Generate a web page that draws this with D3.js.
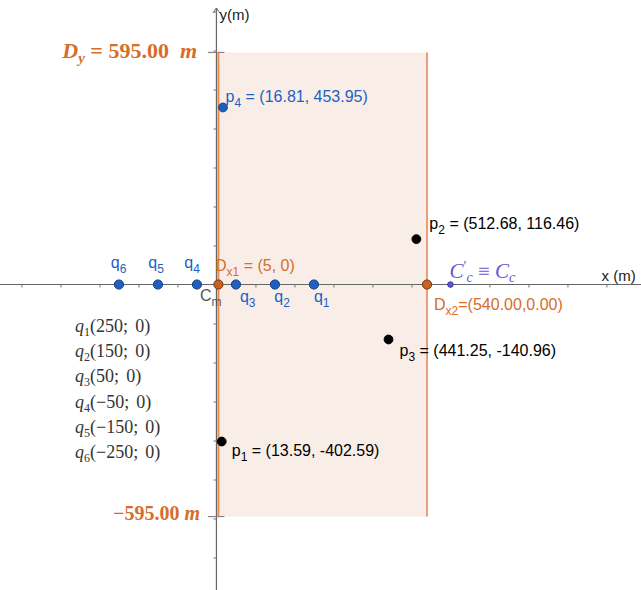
<!DOCTYPE html>
<html>
<head>
<meta charset="utf-8">
<script src="https://cdn.jsdelivr.net/npm/d3@7"></script>
<style>
  body { margin: 0; background: #fff; }
  svg { display: block; }
  text { white-space: pre; }
</style>
</head>
<body>
<svg id="chart" width="641" height="590"></svg>
<script>
// Rectangular domain limits (m)
const domainX = [5, 540];      // D_x1, D_x2
const domainY = [-595, 595];   // -D_y, D_y

// Source points q_i lying on the x axis (m)
const qNames = ["q1", "q2", "q3", "q4", "q5", "q6"];
const qX = [250, 150, 50, -50, -150, -250];

// Observation points p_i (m)
const pNames = ["p1", "p2", "p3", "p4"];
const pX = [13.59, 512.68, 441.25, 16.81];
const pY = [-402.59, 116.46, -140.96, 453.95];

// Reference centres on the x axis (m)
const cmX = 0;     // C_m
const ccX = 600;   // C_c

// Tick positions (m)
const xTicks = d3.range(-500, 1001, 100);
const yTicks = d3.range(-700, 701, 100);

// ---------------------------------------------------------------
const W = 641, H = 590;
const SANS = "'Liberation Sans', Arial, sans-serif";
const SERIF = "'Liberation Serif', 'Times New Roman', serif";
const ORANGE = "#d66d28";
const BLUE = "#1f5fc2";
const PURPLE = "#6557d2";

const svg = d3.select("#chart");
const x = d3.scaleLinear().domain([-555, 1088.7]).range([0, W]);
const y = d3.scaleLinear().domain([729.5, -783.3]).range([0, H]);

const fmt2 = v => v.toFixed(2);
const minus = v => (v < 0 ? "\u2212" + Math.abs(v) : String(v));

// Text made of runs; runs with a "shift" are moved vertically (and usually shrunk)
function rich(g, px, py, parts, opts) {
  const t = g.append("text")
    .attr("x", px).attr("y", py)
    .attr("font-family", opts.family || SANS)
    .attr("font-size", opts.size || 16)
    .attr("fill", opts.fill || "#000")
    .attr("text-anchor", opts.anchor || "start");
  if (opts.weight) t.attr("font-weight", opts.weight);
  let shift = 0;
  parts.forEach(p => {
    const s = p.sub ? (p.shift != null ? p.shift : 5) : 0;
    const ts = t.append("tspan").text(p.t).attr("dy", s - shift);
    shift = s;
    if (p.dx) ts.attr("dx", p.dx);
    if (p.sub) ts.attr("font-size", p.size || 12);
    if (p.italic) ts.attr("font-style", "italic");
    if (p.weight) ts.attr("font-weight", p.weight);
  });
  return t;
}

// Shaded domain
svg.append("rect")
  .attr("x", x(domainX[0])).attr("y", y(domainY[1]))
  .attr("width", x(domainX[1]) - x(domainX[0]))
  .attr("height", y(domainY[0]) - y(domainY[1]))
  .attr("fill", "#f8eee7");

// Axes
const axisG = svg.append("g").attr("stroke", "#666");
axisG.append("line")
  .attr("x1", 0).attr("x2", W)
  .attr("y1", y(0)).attr("y2", y(0))
  .attr("stroke-width", 1.2);
axisG.append("line")
  .attr("x1", x(0)).attr("x2", x(0))
  .attr("y1", 8).attr("y2", H)
  .attr("stroke-width", 1.2);
// y axis arrow head
axisG.append("path")
  .attr("d", `M${x(0) - 3.5},${13} L${x(0)},${8} L${x(0) + 3.5},${13}`)
  .attr("fill", "none").attr("stroke-width", 1);

const xAxis = svg.append("g")
  .attr("transform", `translate(0,${y(0)})`)
  .call(d3.axisBottom(x).tickValues(xTicks.filter(v => v !== 0)).tickSize(3).tickFormat(""));
const yAxis = svg.append("g")
  .attr("transform", `translate(${x(0)},0)`)
  .call(d3.axisLeft(y).tickValues(yTicks.filter(v => v !== 0)).tickSize(3).tickFormat(""));
[xAxis, yAxis].forEach(a => {
  a.select(".domain").remove();
  a.selectAll(".tick line").attr("stroke", "#777").attr("stroke-width", 1);
});

// Short marks at ±D_y on the y axis
domainY.forEach(v => {
  svg.append("line")
    .attr("x1", x(0) - 8.5).attr("x2", x(0) + 8)
    .attr("y1", y(v)).attr("y2", y(v))
    .attr("stroke", "#8c8084").attr("stroke-width", 1.2);
});

// Domain borders at D_x1 and D_x2
domainX.forEach((v, i) => {
  svg.append("line")
    .attr("x1", x(v)).attr("x2", x(v))
    .attr("y1", y(domainY[1])).attr("y2", y(domainY[0]))
    .attr("stroke", i === 0 ? "#e88c50" : "#e6a07a")
    .attr("stroke-width", 2);
});

// Axis titles
rich(svg, x(0) + 3, 20, [{ t: "y(m)" }], { size: 15, fill: "#222" });
rich(svg, 601.5, 281, [{ t: "x (m)" }], { size: 15, fill: "#222" });

// D_y labels
rich(svg, 197, 58, [
  { t: "D", italic: true },
  { t: "y", sub: true, italic: true, size: 15, shift: 5 },
  { t: " = " },
  { t: fmt2(domainY[1]) },
  { t: "  m", italic: true }
], { family: SERIF, size: 22, weight: "bold", fill: ORANGE, anchor: "end" });
rich(svg, 200, 520, [
  { t: "\u2212" + fmt2(Math.abs(domainY[0])) },
  { t: " m", italic: true }
], { family: SERIF, size: 20, weight: "bold", fill: ORANGE, anchor: "end" });

// q_i coordinate list
qNames.forEach((n, i) => {
  rich(svg, 75, 332 + 25.2 * i, [
    { t: "q", italic: true },
    { t: n.slice(1), sub: true, size: 12, shift: 4 },
    { t: `(${minus(qX[i])};\u2009\u20090)` }
  ], { family: SERIF, size: 18, fill: "#333" });
});

// q points and their labels
const qLabelOff = [[0, 17], [-0.6, 17], [4, 17], [-12.6, -17], [-9.6, -17], [-8.2, -17]];
qNames.forEach((n, i) => {
  svg.append("circle")
    .attr("cx", x(qX[i])).attr("cy", y(0)).attr("r", 4.6)
    .attr("fill", BLUE).attr("stroke", "#153f86").attr("stroke-width", 1);
  rich(svg, x(qX[i]) + qLabelOff[i][0], y(0) + qLabelOff[i][1], [
    { t: "q" },
    { t: n.slice(1), sub: true, size: 12, shift: 5 }
  ], { size: 16, fill: BLUE });
});

// C_m label at the origin
rich(svg, x(cmX) - 16.4, y(0) + 16.2, [
  { t: "C" },
  { t: "m", sub: true, size: 12, shift: 5 }
], { size: 16, fill: "#555" });

// D_x1 / D_x2 points
domainX.forEach(v => {
  svg.append("circle")
    .attr("cx", x(v)).attr("cy", y(0)).attr("r", 4.6)
    .attr("fill", "#c9621f").attr("stroke", "#6e3412").attr("stroke-width", 1);
});
rich(svg, x(domainX[0]) - 3.4, y(0) - 13.8, [
  { t: "D" },
  { t: "x1", sub: true, size: 12, shift: 5 },
  { t: ` = (${domainX[0]}, 0)` }
], { size: 16, fill: ORANGE });
rich(svg, x(domainX[1]) + 7, y(0) + 25, [
  { t: "D" },
  { t: "x2", sub: true, size: 12, shift: 5 },
  { t: `=(${fmt2(domainX[1])},${fmt2(0)})` }
], { size: 16, fill: ORANGE });

// C_c point
svg.append("circle")
  .attr("cx", x(ccX)).attr("cy", y(0)).attr("r", 2.8)
  .attr("fill", PURPLE).attr("stroke", "#2f2a7a").attr("stroke-width", 0.8);
rich(svg, x(ccX) - 1, y(0) - 6.5, [
  { t: "C", italic: true },
  { t: "\u2032", sub: true, size: 14, shift: -7 },
  { t: "c", sub: true, italic: true, size: 14, shift: 4 },
  { t: " \u2261 " },
  { t: "C", italic: true },
  { t: "c", sub: true, italic: true, size: 14, shift: 4 }
], { family: SERIF, size: 21, fill: PURPLE });

// Observation points p_i
const pLabelOff = [[10, 14.5], [13, -9.6], [11, 17], [2.5, -5.5]];
pNames.forEach((n, i) => {
  const col = n === "p4" ? BLUE : "#000";
  svg.append("circle")
    .attr("cx", x(pX[i])).attr("cy", y(pY[i])).attr("r", 4.4)
    .attr("fill", col).attr("stroke", n === "p4" ? "#153f86" : "#000").attr("stroke-width", 1);
  rich(svg, x(pX[i]) + pLabelOff[i][0], y(pY[i]) + pLabelOff[i][1], [
    { t: "p" },
    { t: n.slice(1), sub: true, size: 12, shift: 5 },
    { t: ` = (${fmt2(pX[i])}, ${fmt2(pY[i])})` }
  ], { size: 16, fill: col });
});
</script>
</body>
</html>
